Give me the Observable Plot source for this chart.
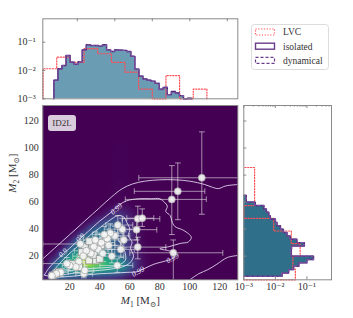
<!DOCTYPE html>
<html><head><meta charset="utf-8">
<script src="https://cdn.jsdelivr.net/npm/d3@7"></script>
<script src="https://cdn.jsdelivr.net/npm/@observablehq/plot@0.6"></script>
<style>
body{margin:0;background:#fff;}
#root{position:relative;width:353px;height:318px;overflow:hidden;font-family:"Liberation Serif","DejaVu Serif",serif;}
#root > svg, #root > div{position:absolute;}
</style></head><body><div id="root"></div>
<script>
// ---------------- data ----------------
const FLOOR = 1e-3;
const logMajor = [1e-3, 1e-2, 1e-1];
const logTickLabels = ["10⁻³", "10⁻²", "10⁻¹"];
const m1TickValues = [20, 40, 60, 80, 100, 120];
const m2TickValues = [20, 40, 60, 80, 100, 120];
const topXTicks = [25, 50, 75, 100, 125];
const axisTitles = ["M₁ [M⊙]", "M₂ [M⊙]"];
const panelLabel = "ID2L";
const legendLabels = ["LVC", "isolated", "dynamical"];

// marginal of M1 (top)
const m1Edges = [9.4,12.1,14.8,17.5,20.2,22.9,25.6,28.3,31.0,33.7,36.4,39.1,41.8,44.5,47.2,49.9,52.6,55.3,58.0,60.7,63.4,66.1,68.8,71.5,74.2,76.9,79.6,82.3,85.0,87.7,90.4,93.1,95.8,98.5,101.2];
const m1Isolated = [0.0045,0.0115,0.0151,0.0339,0.0195,0.0166,0.0204,0.0537,0.0813,0.0759,0.0759,0.0724,0.0813,0.0537,0.0468,0.0537,0.0525,0.0513,0.0468,0.0316,0.0112,0.0063,0.0050,0.0045,0.0042,0.0035,0.0022,0.0025,0.0014,0.0018,0.0016,0.0013,0.0009,0.00105];
const m1Dynamical = [0.0046,0.0112,0.0150,0.0335,0.0198,0.0165,0.0206,0.0530,0.0805,0.0765,0.0750,0.0730,0.0805,0.0540,0.0470,0.0530,0.0520,0.0515,0.0465,0.0320,0.0110,0.0064,0.0049,0.0046,0.0041,0.0036,0.0021,0.0026,0.0014,0.0017,0.0016,0.0013,0.0009,0.0010];
const lvcM1Edges = [2.2,11.3,20.4,29.5,38.6,47.7,56.8,65.9,75.0,84.1,93.2,102.3,111.4];
const lvcM1 = [0.0115,0.0295,0.0195,0.059,0.039,0.0195,0.0087,0.0022,0,0.0066,0,0.0022];

// marginal of M2 (right)
const m2Edges = [5,7.5,10,12.5,15,17.5,20,22.5,25,27.5,30,32.5,35,37.5,40,42.5,45,47.5,50,52.5,55,57.5,60,62.5,65];
const m2Isolated = [0.0163,0.0263,0.038,0.055,0.10,0.162,0.032,0.032,0.032,0.083,0.048,0.0295,0.0234,0.018,0.0145,0.0113,0.0100,0.0069,0.0062,0.0052,0.0043,0.0023,0.0012,0.0012];
const m2Dynamical = [0.0160,0.0265,0.037,0.056,0.098,0.160,0.033,0.031,0.033,0.082,0.049,0.0290,0.0236,0.0178,0.0146,0.0112,0.0101,0.0068,0.0063,0.0051,0.0044,0.0022,0.0012,0.0012];
const lvcM2Edges = [2.5,10.4,19.8,29.2,38.6,48,57.4,66.8,76.2,85.6];
const lvcM2 = [0.043,0.036,0.061,0.032,0.0089,0,0.0022,0.0022,0.0022];

const densityM1 = [0,5,10,15,20,25,30,35,40,45,50,55,60,65,70,75,140];
const densityM2 = [0,5,10,15,20,25,30,35,40,45,50,55,60,135];
const densityRows = [
  [0,.04,.10,.10,.09,.08,.07,.06,.05,.05,.04,.03,.02,0,0,0,0],
  [0,.12,.32,.34,.31,.28,.25,.23,.21,.19,.16,.12,.06,.02,0,0,0],
  [0,.10,.42,.52,.56,.60,.65,.66,.63,.58,.54,.46,.28,.09,.02,0,0],
  [0,.03,.26,.50,.62,.78,.98,.90,.78,.68,.60,.50,.30,.12,.03,0,0],
  [0,0,.06,.33,.50,.62,.86,.68,.56,.48,.40,.30,.19,.08,.02,0,0],
  [0,0,0,.08,.35,.45,.49,.48,.44,.38,.30,.22,.14,.06,.01,0,0],
  [0,0,0,0,.10,.37,.43,.45,.43,.37,.30,.22,.14,.05,.01,0,0],
  [0,0,0,0,0,.11,.36,.41,.41,.36,.31,.22,.14,.05,0,0,0],
  [0,0,0,0,0,0,.09,.29,.36,.36,.31,.23,.14,.05,0,0,0],
  [0,0,0,0,0,0,0,.07,.18,.28,.28,.21,.11,.04,0,0,0],
  [0,0,0,0,0,0,0,0,.03,.11,.18,.16,.08,.03,0,0,0],
  [0,0,0,0,0,0,0,0,0,.03,.07,.07,.04,.01,0,0,0],
  [0,0,0,0,0,0,0,0,0,0,.01,.01,0,0,0,0,0],
  [0,0,0,0,0,0,0,0,0,0,0,0,0,0,0,0,0]
];

// credible-region contours
const contourOuter = [[2,18],[10,26],[20,36],[30,46],[40,56],[48,64],[55,70],[62,73.5],[70,75.5],[80,76.5],[90,76.5],[100,75.5],[110,73],[115,71],[119,70],[124,72],[132,73]];
const contourOuterLow = [[100,2.5],[106,7],[112,10],[118,14],[125,19],[132,20.5]];
const contour99 = [[3,6],[6,11],[12,18],[20,26],[30,36],[40,46],[47,52],[53,58],[58,61],[66,62.5],[74,62.5],[80,62.5],[83,60],[85,57],[84,53],[87,50],[88,46],[90,42],[96,39],[101,34],[99,30.5],[94,29.5],[86,27],[80,25.5],[86,24],[91,22],[88,18],[84,16.5],[76,14],[70,11],[65,8.5],[58,8],[50,7.5],[40,7],[30,6],[20,5],[10,4.5],[3,6]];
const contour90 = [[7,6],[9,9],[12,13],[17,19],[25,27],[33,35],[40,41],[46,46],[52,50],[56,49],[58,45],[60,40],[59,35],[61.5,30.5],[60.5,26],[62.5,20],[60,15],[55,12],[48,10.5],[40,9.5],[30,8.5],[20,7],[12,5.5],[7,6]];
const contour50 = [[14,9],[18,12.5],[24,18],[30,24],[36,30],[42,35],[48,38],[52,37],[52,33],[55,28],[57,22],[57,17],[52,13],[44,11.5],[35,11],[25,10],[18,9],[14,9]];
const contourLabels = [
  {m1:15.5, m2:22.5, t:"0.9", r:-42},
  {m1:27, m2:33.5, t:"0.9", r:-42},
  {m1:51, m2:55, t:"0.99", r:-42},
  {m1:88.5, m2:18.5, t:"0.99", r:-30},
  {m1:65.5, m2:8.5, t:"0.99", r:-30}
];

// events with error bars (M1, M2, M1 low, M1 high, M2 low, M2 high)
const eventRows = [
  [108,78,66,140,51,112],[92,68,63,110,47,89],[88,62,57,111,36,87],[89,22.5,60,122,2,32],
  [65.3,47.7,55,80,40,57],[68.3,48.1,58,76,42,55],[64.5,39.6,52,78,32,47],[65.3,26.7,50,84,18,34],
  [51.6,13.1,40,62,8,18],[55,40,46,66,30,48],[52,43,44,62,35,50],[50,35,40,60,28,42],
  [47,37,38,56,30,44],[45,33,36,54,26,40],[43,36,35,52,29,42],[41,30,33,50,24,36],
  [39,25,31,48,19,31],[36,27,28,44,21,33],[34,22,26,42,17,28],[31,24,23,39,18,30],
  [29,20,22,36,15,25],[26,16,20,33,12,21],[24,12,19,30,8,16],[20,13,15,26,9,17],
  [29.3,7,24,35,4,10],[30,9.5,25,36,6,13],[14,8,10,19,5,11],[11,7,8,15,4,10],
  [8,5.5,6,11,3,8],[42,22,34,50,16,28],[46,28,38,54,22,34],[54,25,45,63,19,31],
  [56,32,47,65,26,38],[37,32,29,45,26,38],[48,20,40,56,15,25],[27,29,2,45,22,35],[18,14.5,2,30,10,19]
];
const squareM1 = [35,38.5,34.7,37.4,32.9,26.2,10.7,12.9,8.5,30,33,28,22,41,36,40,44];
const squareM2 = [28,29.7,23,16.8,16.8,11.9,7,8.2,5.7,27,31,23,14,28,21,18,31];

// ---------------- styling ----------------
const serif = '"Liberation Serif","DejaVu Serif",serif';
const bg = "#440154";
const topFill = "#6a9cb4", rightFill = "#2f6f8a";
const isoColor = "#4e2370", dynColor = "#7b4fa6", lvcColor = "#ff4d55";
const axisGray = "#8a8a8a";
const baseStyle = {fontFamily: serif, fontSize: "10px", color: "#333", background: "transparent", overflow: "visible"};
const logFmt = d => logTickLabels[logMajor.findIndex(v => Math.abs(v - d) < d * 1e-6)];

function steps(edges, values) {
  const pts = [{e: edges[0], v: FLOOR}];
  values.forEach((v, i) => pts.push({e: edges[i], v: Math.max(v, FLOOR)}));
  pts.push({e: edges[edges.length - 1], v: Math.max(values[values.length - 1], FLOOR)});
  pts.push({e: edges[edges.length - 1], v: FLOOR});
  return pts;
}
const root = document.getElementById("root");
function place(el, left, top) { el.style.position = "absolute"; el.style.left = left + "px"; el.style.top = top + "px"; root.appendChild(el); }

// ---------------- top marginal ----------------
const isoTop = steps(m1Edges, m1Isolated), dynTop = steps(m1Edges, m1Dynamical), lvcTop = steps(lvcM1Edges, lvcM1);
const topW = 240, topH = 105, topML = 42.3, topMR = 2.7, topMT = 18.3, topMB = 6.7;
const topFrameW = topW - topML - topMR, topFrameH = topH - topMT - topMB;
const topPlot = Plot.plot({
  width: topW, height: topH, marginLeft: topML, marginRight: topMR, marginTop: topMT, marginBottom: topMB,
  style: baseStyle,
  x: {domain: [2, 132], axis: null},
  y: {type: "log", domain: [FLOOR, 0.67], clamp: true},
  marks: [
    Plot.areaY(isoTop, {x: "e", y1: FLOOR, y2: "v", curve: "step-after", fill: topFill}),
    Plot.line(lvcTop, {x: "e", y: "v", curve: "step-after", stroke: lvcColor, strokeWidth: 1.2, strokeDasharray: "1.2,1.6"}),
    Plot.line(isoTop, {x: "e", y: "v", curve: "step-after", stroke: isoColor, strokeWidth: 1.4}),
    Plot.line(dynTop, {x: "e", y: "v", curve: "step-after", stroke: dynColor, strokeWidth: 1.2, strokeDasharray: "3,2"}),
    Plot.tickX(topXTicks, {x: d => d, stroke: axisGray, insetBottom: topFrameH - 3}),
    Plot.tickY(logMajor, {y: d => d, stroke: axisGray, insetRight: topFrameW - 3}),
    Plot.axisY(logMajor, {tickSize: 0, tickPadding: 7, tickFormat: logFmt, label: null, fontSize: 10, fontFamily: serif}),
    Plot.frame({stroke: axisGray})
  ]
});
place(topPlot, 0, 0);

// ---------------- main joint panel ----------------
const densityPts = [];
densityRows.forEach((row, j) => row.forEach((v, i) => densityPts.push({m1: densityM1[i], m2: densityM2[j], v})));
const contourPts = [];
[contourOuter, contourOuterLow, contour99, contour90, contour50].forEach((c, id) => c.forEach(([m1, m2]) => contourPts.push({id, m1, m2})));
const events = eventRows.map(([m1, m2, a, b, c, d]) => ({m1, m2, x1: a, x2: b, y1: c, y2: d}));
const squares = squareM1.map((m1, i) => ({m1, m2: squareM2[i]}));

const mainPlot = Plot.plot({
  width: 240, height: 218, marginLeft: 42.3, marginRight: 2.7, marginTop: 5, marginBottom: 38.7,
  style: baseStyle,
  x: {domain: [2, 132]},
  y: {domain: [2.5, 131.5]},
  color: {type: "linear", scheme: "viridis", domain: [0, 1]},
  marks: [
    Plot.frame({fill: bg}),
    Plot.raster(densityPts, {x: "m1", y: "m2", fill: "v", interpolate: "barycentric", blur: 1.5}),
    Plot.line(contourPts, {x: "m1", y: "m2", z: "id", stroke: "#f4ecff", strokeOpacity: 0.8, strokeWidth: 1, curve: "catmull-rom", clip: true}),
    Plot.text(contourLabels, {x: "m1", y: "m2", text: "t", rotate: "r", fill: "#f4ecff", fontSize: 7.5, fontStyle: "italic", fontFamily: serif}),
    Plot.link(events, {x1: "x1", x2: "x2", y1: "m2", y2: "m2", stroke: "#e6e6e6", strokeOpacity: 0.6, strokeWidth: 1, markerStart: "tick", markerEnd: "tick", clip: true}),
    Plot.link(events, {x1: "m1", x2: "m1", y1: "y1", y2: "y2", stroke: "#e6e6e6", strokeOpacity: 0.6, strokeWidth: 1, markerStart: "tick", markerEnd: "tick", clip: true}),
    Plot.dot(squares, {x: "m1", y: "m2", symbol: "square", r: 3.9, fill: "#f2f2f2", fillOpacity: 0.92, stroke: "#8c8c8c", strokeWidth: 0.8}),
    Plot.dot(events, {x: "m1", y: "m2", r: 3.5, fill: "#f7f7f7", fillOpacity: 0.9, stroke: "#a8a8a8", strokeWidth: 0.8}),
    Plot.axisX(m1TickValues, {tickSize: 0, tickPadding: 3, label: null, fontSize: 10, fontFamily: serif}),
    Plot.axisY(m2TickValues, {tickSize: 0, tickPadding: 4, label: null, fontSize: 10, fontFamily: serif}),
    Plot.frame({stroke: axisGray}),
    Plot.text([axisTitles[0]], {text: d => d, frameAnchor: "bottom", dy: 21, fontSize: 11, lineAnchor: "middle", fill: "#333", fontFamily: serif}),
    Plot.text([axisTitles[1]], {text: d => d, frameAnchor: "left", dx: -30, rotate: -90, fontSize: 11, lineAnchor: "middle", fill: "#333", fontFamily: serif})
  ]
});
// typeset math-style titles
d3.select(mainPlot).selectAll("text").each(function() {
  const t = this.textContent;
  const idx = axisTitles.indexOf(t);
  if (idx < 0) return;
  const s = d3.select(this); s.text(null);
  s.append("tspan").attr("font-style", "italic").text("M");
  s.append("tspan").attr("font-size", "7.5px").attr("dy", "2.5").text(String(idx + 1));
  s.append("tspan").attr("dy", "-2.5").text(" [M");
  s.append("tspan").attr("font-size", "7.5px").attr("dy", "2.5").text("⊙");
  s.append("tspan").attr("dy", "-2.5").text("]");
});
place(mainPlot, 0, 100);

// ---------------- right marginal ----------------
const isoRight = steps(m2Edges, m2Isolated), dynRight = steps(m2Edges, m2Dynamical), lvcRight = steps(lvcM2Edges, lvcM2);
const rW = 127, rH = 218, rML = 17.3, rMR = 22, rMT = 5, rMB = 38.7;
const rFrameW = rW - rML - rMR, rFrameH = rH - rMT - rMB;
const minorTicks = [];
[1e-3, 1e-2, 1e-1].forEach(dec => [2,3,4,5,6,7,8,9].forEach(k => { if (k * dec < 0.6) minorTicks.push(k * dec); }));
const rightPlot = Plot.plot({
  width: rW, height: rH, marginLeft: rML, marginRight: rMR, marginTop: rMT, marginBottom: rMB,
  style: baseStyle,
  x: {type: "log", domain: [FLOOR, 0.6], clamp: true},
  y: {domain: [2.5, 131.5], axis: null},
  marks: [
    Plot.areaX(isoRight, {y: "e", x1: FLOOR, x2: "v", curve: "step-before", fill: rightFill}),
    Plot.line(lvcRight, {x: "v", y: "e", curve: "step-before", stroke: lvcColor, strokeWidth: 1.2, strokeDasharray: "1.2,1.6"}),
    Plot.line(isoRight, {x: "v", y: "e", curve: "step-before", stroke: isoColor, strokeWidth: 1.4}),
    Plot.line(dynRight, {x: "v", y: "e", curve: "step-before", stroke: dynColor, strokeWidth: 1.2, strokeDasharray: "3,2"}),
    Plot.tickY(m2TickValues, {y: d => d, stroke: axisGray, insetRight: rFrameW - 3}),
    Plot.tickX(logMajor, {x: d => d, stroke: axisGray, insetBottom: rFrameH - 3}),
    Plot.tickX(minorTicks, {x: d => d, stroke: axisGray, strokeWidth: 0.7, insetBottom: rFrameH - 1.8}),
    Plot.tickX(logMajor, {x: d => d, stroke: axisGray, insetTop: rFrameH - 3}),
    Plot.axisX(logMajor, {tickSize: 0, tickPadding: 3, tickFormat: logFmt, label: null, fontSize: 10, fontFamily: serif}),
    Plot.frame({stroke: axisGray})
  ]
});
place(rightPlot, 226, 100);

// ---------------- panel tag ----------------
const tag = document.createElement("div");
tag.textContent = panelLabel;
Object.assign(tag.style, {width: "28px", height: "16px", lineHeight: "16px", textAlign: "center", fontSize: "9px", color: "#333",
  background: "rgba(255,255,255,0.8)", borderRadius: "3px", fontFamily: serif});
place(tag, 48, 115);

// ---------------- legend ----------------
const legendStyles = [
  {stroke: lvcColor, dash: "1.2,1.6", w: 1.2},
  {stroke: "#6a3d8a", dash: null, w: 1.4},
  {stroke: "#6a3d8a", dash: "3,2", w: 1.2}
];
const legend = d3.create("svg").attr("width", 78).attr("height", 46).style("overflow", "visible");
legend.append("rect").attr("x", 0.5).attr("y", 0.5).attr("width", 77).attr("height", 45).attr("rx", 3)
  .attr("fill", "white").attr("stroke", "#dcdcdc");
legendLabels.forEach((lab, i) => {
  const cy = 8 + i * 14.2;
  const st = legendStyles[i];
  legend.append("rect").attr("x", 4.5).attr("y", cy - 3).attr("width", 19).attr("height", 6)
    .attr("fill", "none").attr("stroke", st.stroke).attr("stroke-width", st.w).attr("stroke-dasharray", st.dash);
  legend.append("text").attr("x", 32).attr("y", cy).attr("dy", "0.35em").attr("font-size", 9.5)
    .attr("font-family", serif).attr("fill", "#333").text(lab);
});
place(legend.node(), 251, 24);
</script></body></html>
